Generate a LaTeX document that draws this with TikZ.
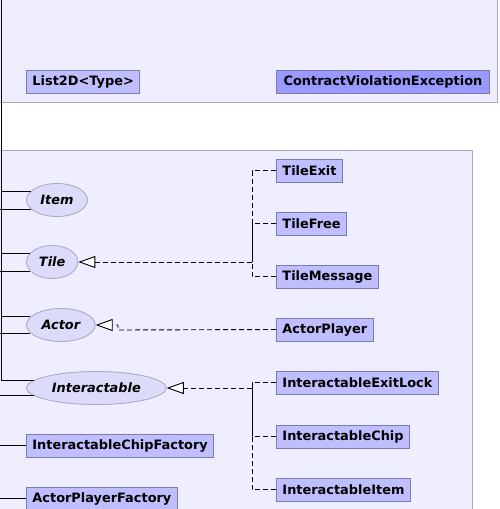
\documentclass[tikz,border=0pt]{standalone}
\usepackage{fontspec}
\setmainfont{DejaVu Sans}
\usetikzlibrary{arrows.meta,positioning,shapes.geometric}
\definecolor{PkgFill}{HTML}{EEEEFF}
\definecolor{PkgLine}{HTML}{A9A9C4}
\definecolor{ClassFill}{HTML}{BFBFFF}
\definecolor{ClassDark}{HTML}{9999FF}
\definecolor{ClassLine}{HTML}{7A7AB4}
\definecolor{IfaceFill}{HTML}{DCDCFA}
\definecolor{IfaceLine}{HTML}{A9A9CC}

\begin{document}
\begin{tikzpicture}[x=1pt,y=-1pt,line width=0.9pt,
  pkg/.style={draw=PkgLine,fill=PkgFill},
  cls/.style={draw=ClassLine,fill=ClassFill,font=\bfseries\fontsize{12.9}{15}\selectfont,minimum height=23pt,inner xsep=6pt,inner ysep=0pt,anchor=west},
  iface/.style={ellipse,draw=IfaceLine,fill=IfaceFill,font=\bfseries\itshape\fontsize{12.9}{15}\selectfont,minimum height=33pt,inner xsep=5pt,inner ysep=0pt,anchor=west},
  impl/.style={dash pattern=on 5pt off 3pt,-{Triangle[open,fill=white,length=17pt,width=12pt]}},
  dsh/.style={dash pattern=on 5pt off 3pt}]
\useasboundingbox (0,0) rectangle (500,509);
% packages
\draw[pkg] (-5,-5) rectangle (497,102);
\draw[pkg] (-5,150) rectangle (472,520);
\node[cls] (list) at (26,81.5) {List2D<Type>};
\node[cls,fill=ClassDark,inner xsep=2pt,minimum width=213pt] (cve) at (276,81.5) {ContractViolationException};
% interfaces
\node[iface] (Item) at (26,200) {Item};
\node[iface] (Tile) at (26,262) {Tile};
\node[iface] (Actor) at (26,325) {Actor};
\node[iface] (Interactable) at (26,388) {Interactable};
% classes
\node[cls] (TileExit) at (276,170.5) {TileExit};
\node[cls] (TileFree) at (276,223.5) {TileFree};
\node[cls] (TileMessage) at (276,276.5) {TileMessage};
\node[cls] (ActorPlayer) at (276,329.5) {ActorPlayer};
\node[cls] (InteractableExitLock) at (276,382.5) {InteractableExitLock};
\node[cls] (InteractableChip) at (276,436.5) {InteractableChip};
\node[cls] (InteractableItem) at (276,489.5) {InteractableItem};
\node[cls] (ChipFactory) at (26,445.5) {InteractableChipFactory};
\node[cls] (PlayerFactory) at (26,498.5) {ActorPlayerFactory};
% realisations
\coordinate (tjoin) at (252,262);
\coordinate (ajog) at (118,330);
\coordinate (ijoin) at (252,388);
\draw[impl] (tjoin) -- (Tile);
\draw[dsh] (TileExit.west) -| (tjoin);
\draw[dsh] (TileFree.west) -| (tjoin);
\draw[dsh] (TileMessage.west) -| (tjoin);
\draw[impl] (ActorPlayer.west) -- (ajog) |- (Actor.east);
\draw[impl] (ijoin) -- (Interactable);
\draw[dsh] (InteractableExitLock.west) -| (ijoin);
\draw[dsh] (InteractableChip.west) -| (ijoin);
\draw[dsh] (InteractableItem.west) -| (ijoin);
% links from the left
\coordinate (trunk) at (1,-5);
\coordinate (edge) at (-5,0);
\draw (trunk) |- (Interactable.173);
\draw (Item.161) -- (Item.161 -| trunk);
\draw (Tile.158) -- (Tile.158 -| trunk);
\draw (Actor.165) -- (Actor.165 -| trunk);
\draw (Item.199) -- (Item.199 -| edge);
\draw (Tile.202) -- (Tile.202 -| edge);
\draw (Actor.195) -- (Actor.195 -| edge);
\draw (Interactable.187) -- (Interactable.187 -| edge);
\draw (ChipFactory.west) -- (ChipFactory.west -| edge);
\draw (PlayerFactory.west) -- (PlayerFactory.west -| edge);
\end{tikzpicture}
\end{document}
